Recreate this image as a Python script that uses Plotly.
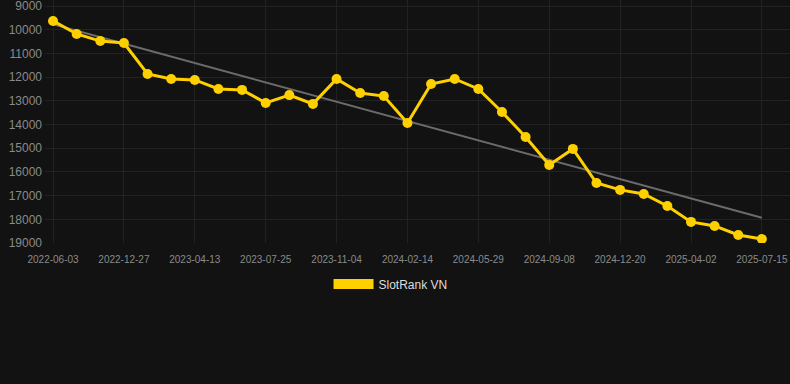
import numpy as np
import plotly.graph_objects as go

dates = [
    "2022-06-03", "2022-08-12", "2022-10-20",
    "2022-12-27", "2023-02-02", "2023-03-08",
    "2023-04-13", "2023-05-17", "2023-06-21",
    "2023-07-25", "2023-08-28", "2023-10-01",
    "2023-11-04", "2023-12-08", "2024-01-11",
    "2024-02-14", "2024-03-19", "2024-04-24",
    "2024-05-29", "2024-07-02", "2024-08-05",
    "2024-09-08", "2024-10-12", "2024-11-16",
    "2024-12-20", "2025-01-23", "2025-02-26",
    "2025-04-02", "2025-05-07", "2025-06-10",
    "2025-07-15",
]
rank = [
    9630, 10180, 10480, 10560, 11870, 12080, 12120, 12500, 12540, 13090,
    12760, 13130, 12080, 12670, 12800, 13940, 12290, 12080, 12500, 13470,
    14530, 15710, 15030, 16470, 16760, 16930, 17440, 18110, 18280, 18660,
    18830,
]
tick_dates = dates[::3]
y_ticks = [9000, 10000, 11000, 12000, 13000, 14000, 15000, 16000, 17000, 18000, 19000]
series_name = "SlotRank VN"

YELLOW = "#FFD000"

idx = np.arange(len(rank))
slope, intercept = np.polyfit(idx, rank, 1)
trend = slope * idx + intercept

fig = go.Figure()
fig.add_trace(go.Scatter(
    x=[dates[0], dates[-1]], y=[trend[0], trend[-1]], mode="lines",
    line=dict(color="#6b6b6b", width=2), showlegend=False, hoverinfo="skip",
))
fig.add_trace(go.Scatter(
    x=dates, y=rank, mode="lines+markers", name=series_name,
    line=dict(color=YELLOW, width=3), marker=dict(color=YELLOW, size=10),
    showlegend=False,
))
fig.add_trace(go.Scatter(
    x=[None], y=[None], mode="lines", name=series_name,
    line=dict(color=YELLOW, width=10), showlegend=True,
))

fig.update_layout(
    width=790, height=384,
    margin=dict(l=45, r=0, t=0, b=141),
    paper_bgcolor="#121212", plot_bgcolor="#121212",
    font=dict(family="Liberation Sans, Arial, sans-serif", color="#999999"),
    showlegend=True,
    legend=dict(
        orientation="h", x=0.4638, xanchor="center", y=-0.169, yanchor="middle",
        font=dict(size=12, color="#dddddd"), itemwidth=40,
    ),
    xaxis=dict(
        type="category", categoryorder="array", categoryarray=dates,
        tickvals=tick_dates, ticktext=tick_dates,
        range=[-0.34, 31.19],
        showgrid=True, gridcolor="#222222", gridwidth=1,
        zeroline=False, showline=False,
        tickfont=dict(size=10, color="#8a8a8a"), ticks="",
        ticklabelstandoff=9,
    ),
    yaxis=dict(
        range=[19000, 8747],
        tickvals=y_ticks, tickformat="d",
        showgrid=True, gridcolor="#222222", gridwidth=1,
        zeroline=False, showline=False,
        tickfont=dict(size=12, color="#8a8a8a"), ticks="",
        ticklabelstandoff=2, ticklabeloverflow="allow",
    ),
)

fig.write_html(
    "out.html",
    config={"displayModeBar": False},
    post_script="document.body.style.margin='0';document.body.style.background='#121212';",
)
